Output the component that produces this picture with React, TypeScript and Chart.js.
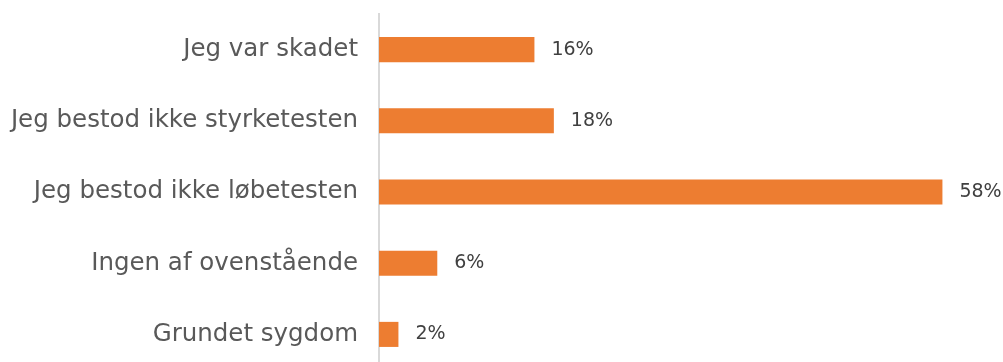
import React, { useEffect, useRef } from "react";
import { Chart, registerables } from "chart.js";

Chart.register(...registerables);

const categories = [
  "Jeg var skadet",
  "Jeg bestod ikke styrketesten",
  "Jeg bestod ikke løbetesten",
  "Ingen af ovenstående",
  "Grundet sygdom",
];
const values = [16, 18, 58, 6, 2];

const AXIS_LEFT = 379;

const labelPlugin = {
  id: "barLabels",
  afterDatasetsDraw(chart: any) {
    const ctx = chart.ctx;
    const meta = chart.getDatasetMeta(0);
    ctx.save();
    ctx.font = "19px 'DejaVu Sans'";
    ctx.fillStyle = "#404040";
    ctx.textAlign = "left";
    ctx.textBaseline = "middle";
    meta.data.forEach((bar: any, i: number) => {
      ctx.fillText(values[i] + "%", bar.x + 17, bar.y);
    });
    ctx.restore();
  },
};

export default function App() {
  const ref = useRef<HTMLCanvasElement>(null);
  useEffect(() => {
    if (!ref.current) return;
    const chart = new Chart(ref.current, {
      type: "bar",
      data: {
        labels: categories,
        datasets: [
          {
            data: values,
            backgroundColor: "#ED7D31",
            barPercentage: 0.352,
            categoryPercentage: 1,
          },
        ],
      },
      options: {
        indexAxis: "y",
        animation: false,
        responsive: true,
        maintainAspectRatio: false,
        layout: { padding: { left: 0, right: 12, top: 14, bottom: 0 } },
        plugins: { legend: { display: false }, tooltip: { enabled: false } },
        scales: {
          x: {
            min: 0,
            max: 63,
            display: false,
            grid: { display: false },
          },
          y: {
            grid: { display: false, drawTicks: false },
            border: { display: true, color: "#D9D9D9", width: 2 },
            ticks: {
              color: "#595959",
              font: { family: "'DejaVu Sans'", size: 24.5 },
              padding: 21,
            },
            afterFit(scale: any) {
              scale.width = AXIS_LEFT;
              scale.paddingTop = 0;
              scale.paddingBottom = 0;
            },
          },
        },
      },
      plugins: [labelPlugin],
    });
    return () => chart.destroy();
  }, []);
  return (
    <div style={{ position: "fixed", left: 0, top: 0, width: 1003, height: 370, background: "#fff" }}>
      <canvas ref={ref} />
    </div>
  );
}
